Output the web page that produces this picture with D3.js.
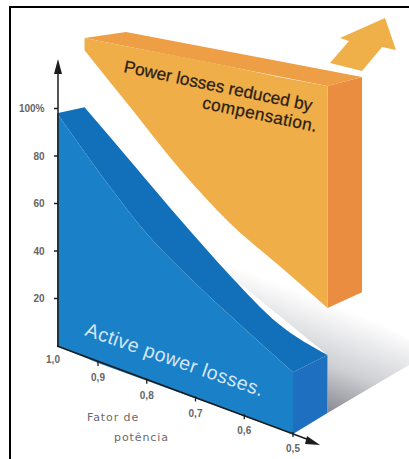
<!DOCTYPE html>
<html>
<head>
<meta charset="utf-8">
<script src="https://cdn.jsdelivr.net/npm/d3@7"></script>
<style>
html,body{margin:0;padding:0;background:#fff;overflow:hidden}
svg{display:block}
text{font-family:"Liberation Sans",Arial,sans-serif}
</style>
</head>
<body>
<svg id="chart" width="409" height="459"></svg>
<script>
// Power factor stations along the floor axis and the loss levels above them (percent).
const powerFactors = [1.0, 0.9, 0.8, 0.7, 0.6, 0.5];
const powerFactorLabels = ["1,0", "0,9", "0,8", "0,7", "0,6", "0,5"];
const percentTicks = [20, 40, 60, 80, 100];
const percentLabels = ["20", "40", "60", "80", "100%"];

const activeFront = [98, 81, 62, 48.5, 37, 26];
// The rear planes start slightly ahead of the 1,0 station.
const rearFactors = [1.017, 0.9, 0.8, 0.7, 0.6, 0.5];
const activeRear = [90.5, 75.2, 58.5, 43, 30, 24.4];
const reducedLower = [114.5, 97.7, 79.6, 65, 54.7, 44.2];
const reducedUpper = [119.6, 124, 127.6, 131, 134, 137.7];
const reducedTopBack = [114.5, 132.6];
const reducedSideFloor = 42;

const ink = "#1c1c1c";
const svg = d3.select("#chart");

// Floor axis is oblique: power factor drives both x and the floor height.
const floorX = d3.scaleLinear().domain([1.0, 0.9, 0.5]).range([57, 98, 293]);
const floorY = d3.scaleLinear().domain([1.0, 0.9, 0.5]).range([346, 363, 434]);
const pctPx = d3.scaleLinear().domain([0, 100]).range([0, 237.5]);
const depthX = 34.5, depthY = -21;

const project = (pf, pct, depth = 0) => [
  floorX(pf) + depth * depthX,
  floorY(pf) + depth * depthY - pctPx(pct)
];
const curve = d3.line().curve(d3.curveMonotoneX);
const linear = d3.line();
const joinPaths = (...segs) => segs.map((s, i) => i ? s.replace(/^M/, "L") : s).join("") + "Z";

const defs = svg.append("defs");
const shadow = defs.append("linearGradient").attr("id", "floorShadow")
  .attr("gradientUnits", "userSpaceOnUse")
  .attr("x1", 330).attr("y1", 415).attr("x2", 368).attr("y2", 318);
shadow.append("stop").attr("offset", 0).attr("stop-color", "#85868f");
shadow.append("stop").attr("offset", 0.45).attr("stop-color", "#cfd0d4");
shadow.append("stop").attr("offset", 1).attr("stop-color", "#ffffff");

// Page frame: only the top and left rules are drawn
svg.append("line").attr("x1", 9).attr("x2", 409).attr("y1", 7).attr("y2", 7)
  .attr("stroke", "#000").attr("stroke-width", 2);
svg.append("line").attr("x1", 10).attr("x2", 10).attr("y1", 6).attr("y2", 459)
  .attr("stroke", "#000").attr("stroke-width", 2);

// Floor shadow cast behind the blue block
const rearFloorEnd = project(0.5, 0, 1);
svg.append("path")
  .attr("d", linear([rearFloorEnd, [409, 365], [409, 340], [330, 290], [240, 225],
    project(0.7, activeRear[3], 1), project(0.5, activeRear[5], 1)]) + "Z")
  .attr("fill", "url(#floorShadow)");

// Orange block: top, side and front face
const orangeLower = rearFactors.map((pf, i) => project(pf, reducedLower[i], 1));
const orangeUpper = rearFactors.map((pf, i) => project(pf, reducedUpper[i], 1));
const backLeft = project(1.0, reducedTopBack[0], 2);
const backRight = project(0.5, reducedTopBack[1], 2);
const frontRight = orangeUpper[5];

svg.append("path")
  .attr("d", linear([orangeUpper[0], backLeft, backRight, frontRight]) + "Z")
  .attr("fill", "#ee9f45");
svg.append("path")
  .attr("d", linear([frontRight, backRight, project(0.5, reducedSideFloor, 2), orangeLower[5]]) + "Z")
  .attr("fill", "#ea8d41");
svg.append("path")
  .attr("d", joinPaths(linear(orangeUpper), curve(orangeLower.slice().reverse())))
  .attr("fill", "#efae48");

// Blue block: top strip, side and front face
const blueFront = powerFactors.map((pf, i) => project(pf, activeFront[i]));
const blueRear = rearFactors.map((pf, i) => project(pf, activeRear[i], 1));
const blueFloor = powerFactors.map(pf => project(pf, 0));

svg.append("path")
  .attr("d", joinPaths(curve(blueFront), curve(blueRear.slice().reverse())))
  .attr("fill", "#1170b9");
svg.append("path")
  .attr("d", linear([blueFront[5], blueRear[5], project(0.5, 0, 1), blueFloor[5]]) + "Z")
  .attr("fill", "#1f6fc0");
svg.append("path")
  .attr("d", joinPaths(curve(blueFront), linear(blueFloor.slice().reverse())))
  .attr("fill", "#1a80c8");

// Percent axis
svg.append("line").attr("x1", 58).attr("x2", 58).attr("y1", floorY(1.0)).attr("y2", 73)
  .attr("stroke", ink).attr("stroke-width", 1.5);
svg.append("path").attr("d", linear([[58, 59], [62, 74], [54, 74]]) + "Z").attr("fill", ink);

const yTicks = svg.append("g").selectAll("g").data(percentTicks).join("g")
  .attr("transform", d => `translate(0,${floorY(1.0) - pctPx(d)})`);
yTicks.append("line").attr("x1", 54).attr("x2", 58).attr("stroke", ink).attr("stroke-width", 1.5);
yTicks.append("text").attr("x", 44.5).attr("dy", "0.35em").attr("text-anchor", "end")
  .attr("font-size", 10).attr("font-weight", "bold").attr("fill", "#666")
  .text((d, i) => percentLabels[i]);

// Power factor axis
const axisStart = project(1.0, 0);
svg.append("line").attr("x1", axisStart[0]).attr("y1", axisStart[1]).attr("x2", 308).attr("y2", 439.5)
  .attr("stroke", ink).attr("stroke-width", 1.5);
svg.append("path").attr("d", linear([[320, 445], [305, 444], [307, 436]]) + "Z").attr("fill", ink);

const xTicks = svg.append("g").selectAll("g").data(powerFactors).join("g")
  .attr("transform", d => `translate(${project(d, 0)})`);
xTicks.filter(d => d !== 1.0).append("line").attr("y1", -2).attr("y2", 3)
  .attr("stroke", ink).attr("stroke-width", 1.3);
xTicks.append("text")
  .attr("x", d => d === 1.0 ? -4 : 0).attr("y", d => d === 1.0 ? 17 : 18)
  .attr("text-anchor", "middle")
  .attr("font-size", 10).attr("font-weight", "bold").attr("fill", "#666")
  .text((d, i) => powerFactorLabels[i]);

// Axis title
const axisTitle = svg.append("g").attr("font-size", 11).attr("fill", "#6a6a6a")
  .style("font-family", "'DejaVu Sans'").attr("letter-spacing", 0.9);
axisTitle.append("text").style("font-family", "inherit").attr("x", 87).attr("y", 421).text("Fator de");
axisTitle.append("text").style("font-family", "inherit").attr("x", 114).attr("y", 441).text("potência");

// Labels lying on the block faces
svg.append("text").attr("transform", "translate(123,72) rotate(11.8)")
  .attr("font-size", 17.2).attr("fill", "#2a2015").attr("stroke", "#2a2015").attr("stroke-width", 0.25)
  .text("Power losses reduced by");
svg.append("text").attr("transform", "translate(316,132) rotate(11.8)")
  .attr("text-anchor", "end").attr("font-size", 17.2).attr("letter-spacing", 0.4)
  .attr("fill", "#2a2015").attr("stroke", "#2a2015").attr("stroke-width", 0.25)
  .text("compensation.");
svg.append("text").attr("transform", "translate(84,335) rotate(19.2)")
  .attr("font-size", 19.5).attr("letter-spacing", 0.5).attr("fill", "#d5e6f5").text("Active power losses.");

// Growth arrow above the orange block
const arrowShape = [[330, 63], [349, 41], [340, 38], [385, 18], [396, 50], [382, 47], [362, 71]];
svg.append("path").attr("d", linear(arrowShape) + "Z").attr("fill", "#efb04a");
</script>
</body>
</html>
